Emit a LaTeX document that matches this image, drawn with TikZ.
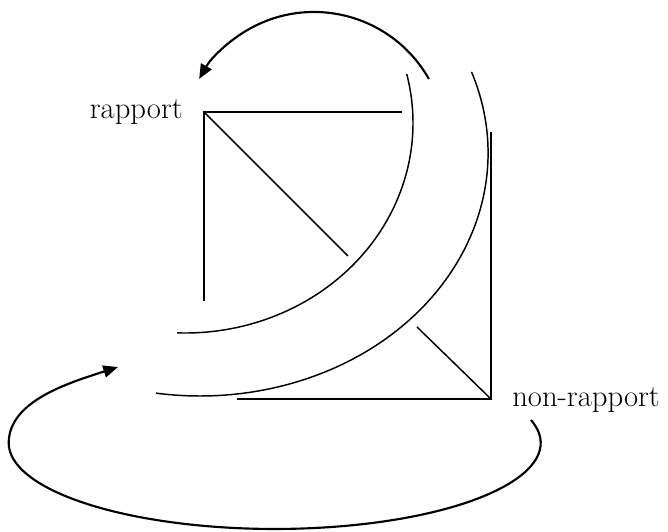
\documentclass[tikz,border=0pt]{standalone}
\usepackage{fontspec}
\usepackage{tikz}
\usetikzlibrary{arrows.meta}
\tikzset{
  >={Triangle[length=11pt,width=9pt]},
  thinline/.style={line width=1.1pt,color=black},
  turnarrow/.style={->,line width=1.6pt,color=black},
  lbl/.style={inner sep=0pt,font=\fontsize{23}{27}\selectfont},
}

\begin{document}
\begin{tikzpicture}[x=0.75pt,y=0.75pt]
  \useasboundingbox (0,0) rectangle (668,532);
  \coordinate (rp) at (204,420);
  \coordinate (nr) at (491,133);
  \node[lbl,anchor=base east] (rapport) at (183,413) {rapport};
  \node[lbl,anchor=base west] (nonrapport) at (512,125) {non-rapport};

  \draw[thinline] (402,420) -- (rp) -- (204,231);
  \draw[thinline] (rp) -- (348,276);
  \draw[thinline] (237,133) -- (nr) -- (491,400);
  \draw[thinline] (417,205) -- (nr);

  \draw[thinline] (406.7,458) arc[start angle=13.5,end angle=-92,x radius=228,y radius=210];
  \draw[thinline] (471.5,460.1) arc[start angle=19.5,end angle=-98.8,x radius=288,y radius=243];

  \coordinate (upfrom) at (428.9,453);
  \draw[turnarrow] (upfrom) arc[start angle=29.5,end angle=150.5,radius=132];
  \coordinate (lowfrom) at (531,112);
  \coordinate (lowto) at (118,165);
  \draw[turnarrow] (lowfrom) arc[start angle=15.5,end angle=-180,x radius=266,y radius=86]
    .. controls (9,130) and (65,148) .. (lowto);
\end{tikzpicture}
\end{document}
